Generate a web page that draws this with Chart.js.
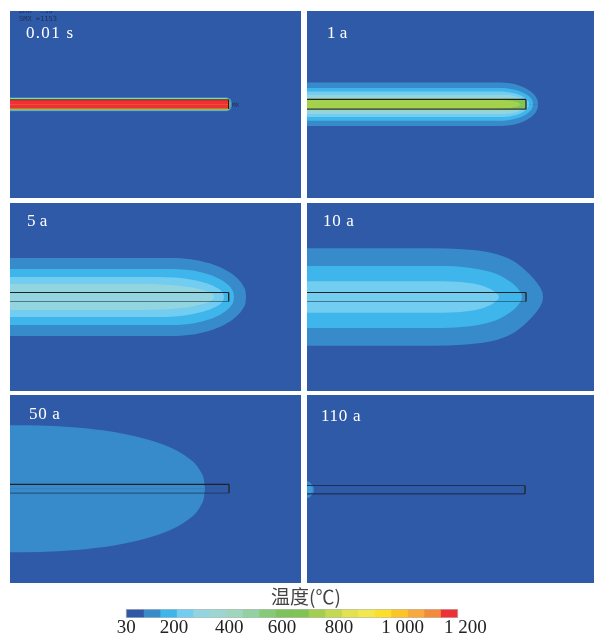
<!DOCTYPE html>
<html>
<head>
<meta charset="utf-8">
<script src="https://cdn.jsdelivr.net/npm/chart.js@4/dist/chart.umd.min.js"></script>
<style>
html, body { margin: 0; padding: 0; background: #fff; overflow: hidden; }
canvas { position: absolute; }
</style>
</head>
<body>
<script>
// contour outlines: upper half of each band, [distance along the section, half width]
const band0a = [[0,7],[215,7],[218,6.6],[220.5,5.2],[221.6,2.8],[222,0]];
const band0b = [[0,6.2],[216,6.2],[218.5,5.6],[220,4.2],[220.8,0]];
const band0c = [[0,5.4],[217,5.4],[219,4.6],[220,0]];
const band0d = [[0,4.2],[218.9,4.2],[219,0]];

const band1a = [[0,21.7],[193,21.7],[202.9,21],[212,18.9],[220,15.4],[226.1,10.9],[229.9,5.6],[230.7,3],[231,0]];
const band1b = [[0,16.4],[192,16.4],[200.8,15.9],[209,14.3],[216.1,11.6],[221.6,8.2],[225,4.3],[225.7,2.3],[226,0]];
const band1c = [[0,12.8],[192,12.8],[199.8,12.4],[207,11.1],[213.3,9.1],[218.1,6.4],[221.1,3.3],[221.7,1.8],[222,0]];
const band1d = [[0,9.6],[195,9.6],[201.2,9.3],[207,8.4],[212,6.8],[215.9,4.8],[218.3,2.5],[218.8,1.3],[219,0]];
const band1e = [[0,6.6],[197,6.6],[201.7,6.4],[206,5.7],[209.8,4.7],[212.7,3.3],[214.5,1.7],[214.8,0.9],[215,0]];
const band1f = [[0,4.6],[200,4.6],[218.9,4.6],[219,0]];
const band1g = [[0,4.4],[190,4.4],[196,4.3],[201.5,3.8],[206.3,3.1],[210,2.2],[212.3,1.1],[212.8,0.6],[213,0]];

const band2a = [[0,39],[161,39],[180.5,37.8],[198.5,33.9],[214.3,27.7],[226.3,19.5],[233.8,10.1],[235.5,5.5],[236,0]];
const band2b = [[0,28],[160,28],[176.6,27.2],[192,24.4],[205.4,19.9],[215.7,14],[222.1,7.3],[223.5,3.9],[224,0]];
const band2c = [[0,20],[147,20],[164.4,19.4],[180.5,17.4],[194.6,14.2],[205.3,10],[212,5.2],[213.4,2.8],[214,0]];
const band2d = [[0,13],[133,13],[151.5,12.6],[168.5,11.3],[183.4,9.2],[194.8,6.5],[201.9,3.4],[203.4,1.8],[204,0]];

const band3a = [[0,48.7],[126,48.7],[155,47.8],[183,44.6],[198,40],[208,35],[218,27],[226,19],[231.5,12],[234.8,6],[235.8,2.5],[236,0]];
const band3b = [[0,31],[136,31],[160,29.6],[180,26],[192,22],[203,15.5],[209,10.5],[213,5.5],[214.6,2.6],[215,0]];
const band3c = [[0,15.7],[136,15.7],[150,15.2],[162,14],[173,12],[181,9],[186,6.5],[190,3.2],[191.6,1.5],[192,0]];

const band4a = [[0,63.5],[30,63.2],[66,61.3],[104,56.8],[125,52.5],[141,48.2],[155,43.5],[168,37.5],[178,31],[186,24],[191,16.5],[194,8.5],[195,0]];

const band5a = [[0,8.4],[2,8],[5,5],[6.6,2.4],[7,0]];
const band5b = [[0,4.6],[3,3.6],[5,2],[5.8,0]];

// colour levels on the legend, low to high
const levelColors = ['#2f57a7','#388bcb','#3eb6ec','#72cdf0','#92d5e0','#9bd6d2','#9dd6bc','#93d1a2','#85ca77','#7dc35a',
    '#80c455','#a5ce4e','#c3d94f','#e2e24f','#f1e84e','#fbdf2a','#fcc525','#f9a93a','#f38a3b','#ef3034'];
const tickLabels = ['30','200','400','600','800','1 000','1 200'];
const tickSlots = [-0.05, 2.85, 6.2, 9.4, 12.85, 16.7, 20.5];

const panels = [
    { label: '0.01 s', x: 10, y: 11, w: 291, h: 187, top: 93.3, rect: 218.7, half: 4.7, labelAt: [16, -27],
      topEdge: 'rgba(50,50,30,0.75)', bottomEdge: 'rgba(90,90,40,0.6)', bands: [[band0a,'#388bcb'],[band0b,'#93d1a2'],[band0c,'#e2e24f'],[band0d,'#ef3034']] },
    { label: '1 a', x: 307, y: 11, w: 287, h: 187, top: 93.3, rect: 219, half: 4.9, labelAt: [20, -27],
      topEdge: '#222', bottomEdge: '#333', bands: [[band1a,'#388bcb'],[band1b,'#3eb6ec'],[band1c,'#72cdf0'],[band1d,'#92d5e0'],[band1e,'#9dd6bc'],[band1f,'#80c455'],[band1g,'#a5d24c']] },
    { label: '5 a', x: 10, y: 203, w: 291, h: 188, top: 94, rect: 218.7, half: 4.5, labelAt: [17, -23],
      topEdge: '#222', bottomEdge: 'rgba(40,60,70,0.6)', bands: [[band2a,'#388bcb'],[band2b,'#3eb6ec'],[band2c,'#72cdf0'],[band2d,'#92d5e0']] },
    { label: '10 a', x: 307, y: 203, w: 287, h: 188, top: 94, rect: 219, half: 4.5, labelAt: [16, -23],
      topEdge: '#222', bottomEdge: 'rgba(40,60,70,0.6)', bands: [[band3a,'#388bcb'],[band3b,'#3eb6ec'],[band3c,'#72cdf0']] },
    { label: '50 a', x: 10, y: 395, w: 291, h: 188, top: 93.7, rect: 219, half: 4.4, labelAt: [19, -24],
      topEdge: '#222', bottomEdge: 'rgba(30,50,80,0.6)', bands: [[band4a,'#388bcb']] },
    { label: '110 a', x: 307, y: 395, w: 287, h: 188, top: 94.7, rect: 218, half: 4.2, labelAt: [14, -26],
      topEdge: '#1f2f55', bottomEdge: '#1f2f55', bands: [[band5a,'#388bcb'],[band5b,'#3c9edb']] }
];

// writes the time label (and the solver's small notes on the first panel)
const panelText = {
    id: 'panelText',
    afterDraw(chart, args, opts) {
        const ctx = chart.ctx;
        opts.items.forEach(item => {
            ctx.save();
            ctx.fillStyle = item.color;
            ctx.font = item.font;
            ctx.letterSpacing = item.spacing || '0px';
            ctx.textBaseline = 'alphabetic';
            ctx.fillText(item.text, chart.scales.x.getPixelForValue(item.at[0]), chart.scales.y.getPixelForValue(chart.scales.y.max + item.at[1]));
            ctx.restore();
        });
    }
};

function addCanvas(x, y, w, h) {
    let c = document.createElement('canvas');
    c.width = w;
    c.height = h;
    c.style.left = x + 'px';
    c.style.top = y + 'px';
    c.style.width = w + 'px';
    c.style.height = h + 'px';
    document.body.appendChild(c);
    return c;
}

panels.forEach((p, i) => {
    let datasets = [];
    p.bands.forEach((b, n) => {
        let upper = b[0].map(pt => ({ x: pt[0], y: pt[1] }));
        let lower = b[0].map(pt => ({ x: pt[0], y: -pt[1] }));
        [upper, lower].forEach(d => {
            // lower order draws on top, so the inner bands get the small numbers
            datasets.push({ data: d, order: 20 - n, borderWidth: 0, pointRadius: 0, cubicInterpolationMode: 'monotone', backgroundColor: b[1], fill: { value: 0 } });
        });
    });
    datasets.push({ data: [{x:0,y:p.half},{x:p.rect,y:p.half}], order: 0, borderColor: p.topEdge, borderWidth: 1.2, pointRadius: 0, fill: false });
    datasets.push({ data: [{x:p.rect,y:p.half},{x:p.rect,y:-p.half}], order: 0, borderColor: '#222', borderWidth: 1.3, pointRadius: 0, fill: false });
    datasets.push({ data: [{x:p.rect,y:-p.half},{x:0,y:-p.half}], order: 0, borderColor: p.bottomEdge, borderWidth: 1.2, pointRadius: 0, fill: false });

    let items = [{ text: p.label, at: p.labelAt, color: '#fff', font: '17px "Liberation Serif"', spacing: i == 0 ? '1.3px' : (p.label.length > 3 ? '0.7px' : '0px') }];
    if (i == 0) {
        items.push({ text: 'SMX =1153', at: [9, -9.5], color: '#1f2f55', font: '7px "DejaVu Sans Mono"' });
        items.push({ text: 'DMX  .50', at: [9, -2], color: '#1f2f55', font: '7px "DejaVu Sans Mono"' });
        items.push({ text: 'MX', at: [222, -95.5], color: '#1f2f55', font: '6px "DejaVu Sans Mono"' });
    }

    new Chart(addCanvas(p.x, p.y, p.w, p.h), {
        type: 'line',
        data: { datasets: datasets },
        plugins: [panelText],
        options: {
            responsive: false,
            animation: false,
            parsing: false,
            layout: { padding: 0 },
            plugins: { legend: { display: false }, tooltip: { enabled: false }, title: { display: false }, panelText: { items: items } },
            scales: {
                x: { type: 'linear', display: false, min: 0, max: p.w },
                y: { type: 'linear', display: false, min: p.top - p.h, max: p.top }
            }
        }
    }).canvas.style.background = '#2e5aa8';
});

// legend: one floating bar per colour level
let legendSets = levelColors.map((color, i) => ({
    data: [[i, i + 1]], backgroundColor: color, barThickness: 7, grouped: false, order: 1
}));
legendSets.push({ data: [[-0.05, 20.05]], backgroundColor: '#b9b9b9', barThickness: 10, grouped: false, order: 2 });

new Chart(addCanvas(112, 586, 388, 53), {
    type: 'bar',
    data: { labels: ['温度'], datasets: legendSets },
    options: {
        indexAxis: 'y',
        responsive: false,
        animation: false,
        layout: { padding: 0 },
        plugins: {
            legend: { display: false },
            tooltip: { enabled: false },
            title: { display: true, text: '温度(℃)', color: '#444', font: { family: '"Noto Sans CJK SC"', size: 19, weight: 'normal', lineHeight: 1 }, padding: { top: 1, bottom: 3 } }
        },
        scales: {
            y: { display: false },
            x: {
                type: 'linear',
                min: -0.909,
                max: 22.606,
                afterBuildTicks: scale => { scale.ticks = tickSlots.map(v => ({ value: v })); },
                grid: { display: false, drawTicks: false },
                border: { display: false },
                ticks: {
                    autoSkip: false,
                    maxRotation: 0,
                    padding: 1,
                    color: '#222',
                    font: { family: '"Liberation Serif"', size: 19, lineHeight: 1 },
                    callback: (v, i) => tickLabels[i]
                }
            }
        }
    }
});
</script>
</body>
</html>
